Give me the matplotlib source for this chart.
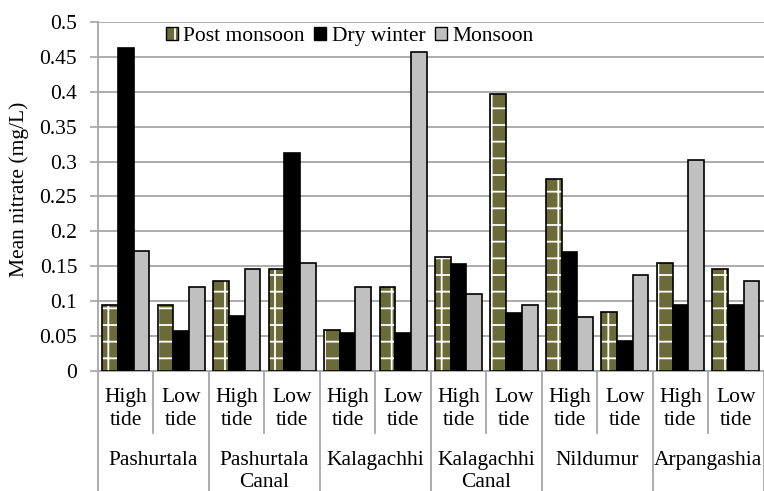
import numpy as np
import matplotlib.pyplot as plt
from matplotlib.patches import Patch
from matplotlib.legend_handler import HandlerTuple

plt.rcParams['font.family'] = ['Liberation Serif', 'DejaVu Serif']
plt.rcParams['font.size'] = 15.5
plt.rcParams['hatch.linewidth'] = 1.3

tides = ['High\ntide', 'Low\ntide'] * 6
sites = ['Pashurtala', 'Pashurtala\nCanal', 'Kalagachhi', 'Kalagachhi\nCanal', 'Nildumur', 'Arpangashia']

post_monsoon = [0.094, 0.094, 0.129, 0.146, 0.059, 0.120, 0.164, 0.397, 0.275, 0.085, 0.155, 0.146]
dry_winter = [0.463, 0.057, 0.079, 0.313, 0.054, 0.055, 0.154, 0.083, 0.171, 0.043, 0.094, 0.094]
monsoon = [0.172, 0.120, 0.146, 0.155, 0.120, 0.457, 0.111, 0.094, 0.077, 0.137, 0.302, 0.129]

olive = '#6b6b3a'
grey = '#a6a6a6'

fig = plt.figure(figsize=(7.64, 4.91), dpi=100)
ax = fig.add_axes([0.1283, 0.2444, 0.8712, 0.7108])

x = np.arange(len(tides))
w = 0.283

ax.bar(x - w, post_monsoon, w, color=olive, edgecolor='white', hatch='+', linewidth=0, zorder=3)
ax.bar(x - w, post_monsoon, w, fill=False, edgecolor='black', linewidth=1.2, zorder=4)
ax.bar(x, dry_winter, w, color='black', edgecolor='black', linewidth=1.2, zorder=3)
ax.bar(x + w, monsoon, w, color='#c0c0c0', edgecolor='black', linewidth=1.2, zorder=3)

ax.set_xlim(-0.5, len(tides) - 0.5)
ax.set_ylim(0, 0.5)
ax.set_yticks(np.arange(0, 0.501, 0.05))
ax.set_yticklabels(['0', '0.05', '0.1', '0.15', '0.2', '0.25', '0.3', '0.35', '0.4', '0.45', '0.5'])
ax.yaxis.grid(True, color=grey, linewidth=1.3, zorder=0)
ax.set_axisbelow(True)
ax.tick_params(axis='y', direction='out', length=6, width=1.2, color=grey, pad=9)
ax.set_xticks([])
for s in ['top', 'right']:
    ax.spines[s].set_visible(False)
for s in ['left', 'bottom']:
    ax.spines[s].set_color(grey)
    ax.spines[s].set_linewidth(1.3)

ax.set_ylabel('Mean nitrate (mg/L)')
ax.yaxis.set_label_coords(-0.103, 0.52)

# two-level category axis
trans = ax.get_xaxis_transform()
for i, t in enumerate(tides):
    ax.text(i, -0.108, t, transform=trans, ha='center', va='center', linespacing=1.3)
for g, s in enumerate(sites):
    ax.text(2 * g + 0.5, -0.228, s, transform=trans, ha='center', va='top', linespacing=1.25)
    ax.plot([2 * g + 0.5] * 2, [0, -0.178], transform=trans, color=grey, lw=1.3, clip_on=False)
for g in range(len(sites) + 1):
    ax.plot([2 * g - 0.5] * 2, [0, -0.4], transform=trans, color=grey, lw=1.3, clip_on=False)

pm_handle = (Patch(facecolor=olive, edgecolor='white', hatch='+', linewidth=0),
             Patch(fill=False, edgecolor='black', linewidth=1))
dw_handle = Patch(facecolor='black', edgecolor='black')
m_handle = Patch(facecolor='#c0c0c0', edgecolor='black')
ax.legend([pm_handle, dw_handle, m_handle], ['Post monsoon', 'Dry winter', 'Monsoon'],
          handler_map={tuple: HandlerTuple(ndivide=1)},
          loc='upper center', bbox_to_anchor=(0.378, 1.01), ncol=3, frameon=False,
          handlelength=0.55, handleheight=0.55, handletextpad=0.25, columnspacing=0.45,
          borderaxespad=0)

fig.savefig('out.png', dpi=100)
